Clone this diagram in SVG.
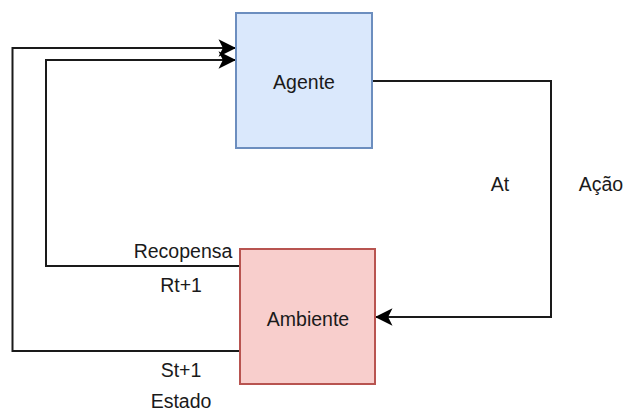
<svg xmlns="http://www.w3.org/2000/svg" width="625" height="412" viewBox="0 0 625 412">
<style>
text{font-family:"Liberation Sans",Arial,sans-serif;font-size:19.5px;fill:#1a1a1a;text-anchor:middle}
.edge{fill:none;stroke:#1a1a1a;stroke-width:2}
</style>
<defs>
<marker id="arr" markerUnits="userSpaceOnUse" markerWidth="20" markerHeight="20" viewBox="-15 -8 16 16" refX="0" refY="0" orient="auto">
<path d="M0,0 L-14,-7 L-10.5,0 L-14,7 Z" fill="#000"/>
</marker>
</defs>
<rect width="625" height="412" fill="#fff"/>
<g id="connectors">
<path class="edge" d="M240,351 H12.5 V48 H236" marker-end="url(#arr)"/>
<path class="edge" d="M240,266 H46 V60 H236" marker-end="url(#arr)"/>
<path class="edge" d="M372,81 H551 V317 H375" marker-end="url(#arr)"/>
</g>
<g id="agente">
<rect x="236" y="13" width="136" height="135" fill="#dae8fc" stroke="#6c8ebf" stroke-width="2"/>
<text x="304" y="89">Agente</text>
</g>
<g id="ambiente">
<rect x="240" y="249" width="135" height="135" fill="#f8cecc" stroke="#b85450" stroke-width="2"/>
<text x="308" y="326">Ambiente</text>
</g>
<g id="labels">
<text x="500" y="191">At</text>
<text x="601" y="191">Ação</text>
<text x="183" y="258">Recopensa</text>
<text x="181" y="292">Rt+1</text>
<text x="181" y="377">St+1</text>
<text x="181" y="408">Estado</text>
</g>
</svg>
